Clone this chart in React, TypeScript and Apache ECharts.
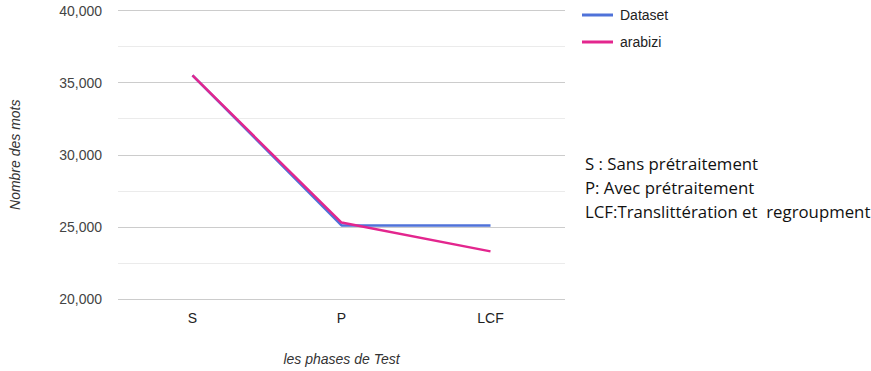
import React, { useEffect, useRef } from "react";
import * as echarts from "echarts";

const categories = ["S", "P", "LCF"];
const datasetValues = [35500, 25100, 25100];
const arabiziValues = [35500, 25300, 23300];
const notes = [
  "S : Sans prétraitement",
  "P: Avec prétraitement",
  "LCF:Translittération et  regroupment",
];

export default function App() {
  const ref = useRef<HTMLDivElement>(null);
  useEffect(() => {
    if (!ref.current) return;
    const chart = echarts.init(ref.current, null, { renderer: "svg" });
    chart.setOption({
      animation: false,
      backgroundColor: "#ffffff",
      textStyle: { fontFamily: "Arial, 'Liberation Sans', sans-serif" },
      grid: { left: 113, width: 452, top: 10.5, height: 294.5, containLabel: false },
      legend: {
        orient: "vertical",
        left: 582,
        top: 8,
        padding: 0,
        icon: "rect",
        itemWidth: 31,
        itemHeight: 3,
        itemGap: 13,
        textStyle: { fontSize: 14, color: "#222", padding: [0, 0, 0, 2], fontFamily: "Arial, 'Liberation Sans', sans-serif" },
        data: ["Dataset", "arabizi"],
      },
      xAxis: {
        type: "category",
        data: categories,
        boundaryGap: true,
        axisLine: { show: false },
        axisTick: { show: false },
        axisLabel: { fontSize: 14, color: "#222", margin: 12 },
        name: "les phases de Test",
        nameLocation: "middle",
        nameGap: 53,
        nameTextStyle: { fontSize: 14, color: "#333", fontStyle: "italic" },
      },
      yAxis: {
        type: "value",
        min: 20000,
        max: 40000,
        interval: 5000,
        axisLine: { show: false },
        axisTick: { show: false },
        axisLabel: {
          fontSize: 14,
          color: "#444",
          margin: 16,
          formatter: (v: number) => v.toLocaleString("en-US"),
        },
        splitLine: { show: true, lineStyle: { color: "#cccccc", width: 1 } },
        minorTick: { show: false, splitNumber: 2 },
        minorSplitLine: { show: true, lineStyle: { color: "#ebebeb", width: 1 } },
        name: "Nombre des mots",
        nameLocation: "middle",
        nameGap: 96,
        nameRotate: 90,
        nameTextStyle: { fontSize: 14, color: "#333", fontStyle: "italic" },
      },
      series: [
        {
          name: "Dataset",
          type: "line",
          data: datasetValues,
          symbol: "none",
          color: "#4f72d9",
          lineStyle: { width: 2.5, color: "#4f72d9" },
        },
        {
          name: "arabizi",
          type: "line",
          data: arabiziValues,
          symbol: "none",
          color: "#e3268e",
          lineStyle: { width: 2.5, color: "#e3268e" },
        },
      ],
      graphic: notes.map((t, i) => ({
        type: "text",
        left: 585,
        top: 155 + i * 24,
        style: {
          text: t,
          fontSize: 16.8,
          fill: "#111",
          fontFamily: "'Open Sans', 'Noto Sans', sans-serif",
        },
      })),
    });
    return () => chart.dispose();
  }, []);
  return (
    <div
      ref={ref}
      style={{ position: "fixed", left: 0, top: 0, width: 871, height: 371 }}
    />
  );
}
